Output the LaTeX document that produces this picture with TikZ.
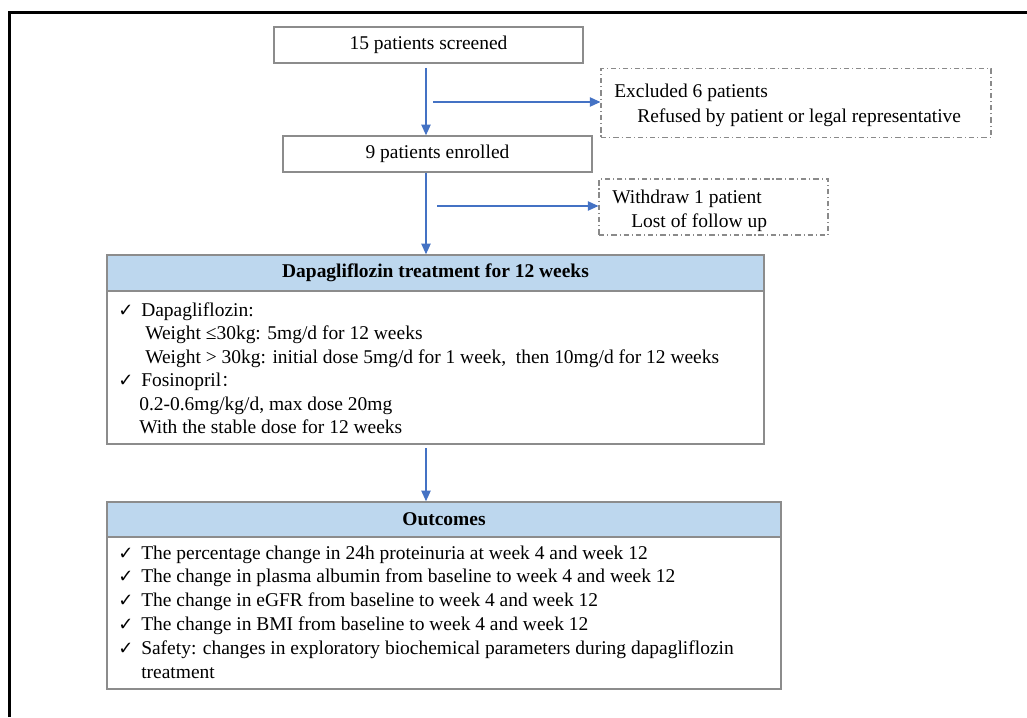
\documentclass[tikz,border=0pt]{standalone}
\usepackage{fontspec}
\setmainfont{Liberation Serif}
\newfontfamily\symfont{DejaVu Sans}
\newfontfamily\cjkfont{Noto Sans CJK SC}
\usetikzlibrary{arrows.meta}
\definecolor{arrowblue}{HTML}{4472C4}
\definecolor{headblue}{HTML}{BDD7EE}
\definecolor{boxgray}{HTML}{8C8C8C}
\definecolor{dashgray}{HTML}{8A8A8A}
\newcommand{\chk}{{\symfont\fontsize{13.5pt}{13.5pt}\selectfont ✓}}
\begin{document}
\begin{tikzpicture}[x=0.75pt,y=-0.75pt,
  mainfont/.style={font=\fontsize{14.6pt}{17.6pt}\selectfont},
  box/.style={draw=boxgray, line width=1.1pt, inner sep=0pt, mainfont},
  dbox/.style={draw=dashgray, line width=0.8pt, dash pattern=on 4pt off 2.2pt on 0.8pt off 2.2pt, inner sep=0pt},
  txt/.style={inner sep=0pt, anchor=base west, mainfont},
  arr/.style={draw=arrowblue, line width=1pt, -{Triangle[length=8pt,width=7pt]}}]
\useasboundingbox (0,0) rectangle (1027,717);
% frame
\draw[line width=1.6pt] (9.5,717) -- (9.5,12.5) -- (1027,12.5);
% top boxes
\node[box, minimum width=309*0.75pt, minimum height=36*0.75pt] (scr) at (428.5,45) {15 patients screened};
\node[box, minimum width=309*0.75pt, minimum height=36*0.75pt] (enr) at (437.5,154) {9 patients enrolled};
% side boxes
\node[dbox, minimum width=390*0.75pt, minimum height=69*0.75pt] (exc) at (796,103) {};
\node[txt] (exc1) at (614,97) {Excluded 6 patients};
\node[txt] (exc2) at (637,122) {Refused by patient or legal representative};
\node[dbox, minimum width=229*0.75pt, minimum height=56*0.75pt] (wd) at (713.5,207) {};
\node[txt] (wd1) at (612,203) {Withdraw 1 patient};
\node[txt] (wd2) at (631,227) {Lost of follow up};
% treatment box
\node[box, minimum width=657*0.75pt, minimum height=153*0.75pt] (trb) at (435.5,367.5) {};
\node[box, fill=headblue, minimum width=657*0.75pt, minimum height=36*0.75pt] (trh) at (435.5,273) {\bfseries Dapagliflozin treatment for 12 weeks};
\node[txt] (c1) at (118,316) {\chk};
\node[txt] (t1) at (141,316) {Dapagliflozin:};
\node[txt] (t2) at (145,339.5) {Weight ≤30kg: 5mg/d for 12 weeks};
\node[txt] (t3) at (145,363) {Weight > 30kg: initial dose 5mg/d for 1 week,\ \ then 10mg/d for 12 weeks};
\node[txt] (c2) at (118,386.5) {\chk};
\node[txt] (t4) at (141,386.5) {Fosinopril{\cjkfont\fontsize{12pt}{12pt}\selectfont ：}};
\node[txt] (t5) at (139,410) {0.2-0.6mg/kg/d, max dose 20mg};
\node[txt] (t6) at (139,433.5) {With the stable dose for 12 weeks};
% outcomes box
\node[box, minimum width=674*0.75pt, minimum height=152*0.75pt] (outb) at (444,613) {};
\node[box, fill=headblue, minimum width=674*0.75pt, minimum height=35*0.75pt] (outh) at (444,519.5) {\bfseries Outcomes};
\node[txt] (oc1) at (118,559) {\chk};
\node[txt] (o1) at (141,559) {The percentage change in 24h proteinuria at week 4 and week 12};
\node[txt] (oc2) at (118,582.8) {\chk};
\node[txt] (o2) at (141,582.8) {The change in plasma albumin from baseline to week 4 and week 12};
\node[txt] (oc3) at (118,606.6) {\chk};
\node[txt] (o3) at (141,606.6) {The change in eGFR from baseline to week 4 and week 12};
\node[txt] (oc4) at (118,630.4) {\chk};
\node[txt] (o4) at (141,630.4) {The change in BMI from baseline to week 4 and week 12};
\node[txt] (oc5) at (118,654.2) {\chk};
\node[txt] (o5) at (141,654.2) {Safety: changes in exploratory biochemical parameters during dapagliflozin};
\node[txt] (o6) at (141,678) {treatment};
% connectors
\coordinate (a1) at (426,68);
\draw[arr] (a1) -- (a1 |- enr.north);
\coordinate (b1) at (433,102);
\draw[arr] (b1) -- (b1 -| exc.west);
\draw[arr] (enr.south -| a1) -- (a1 |- trh.north);
\coordinate (b2) at (437,206);
\draw[arr] (b2) -- (b2 -| wd.west);
\coordinate (a3) at (426,448);
\draw[arr] (a3) -- (a3 |- outh.north);
\end{tikzpicture}
\end{document}
